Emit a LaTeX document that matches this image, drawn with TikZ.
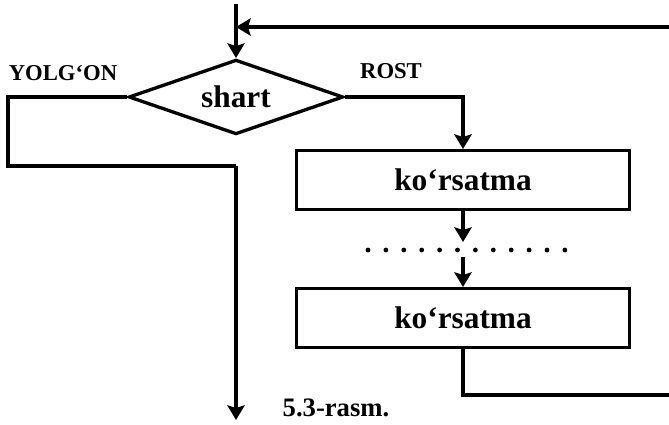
\documentclass[tikz,border=0pt]{standalone}
\usepackage{fontspec}
\setmainfont{Liberation Serif}
\usetikzlibrary{
positioning,
arrows.meta,
shapes.geometric
}
\tikzset{
decision/.style={
draw,
diamond,
line width=2.5pt,
inner sep=0pt,
aspect=2.87,
minimum width=161pt,
minimum height=56pt,
font=\fontsize{23.5}{26}\selectfont\bfseries
},
box/.style={
draw,
line width=2.5pt,
align=center,
minimum height=44pt,
minimum width=250pt,
font=\fontsize{23.5}{26}\selectfont\bfseries
},
label/.style={
inner sep=0pt,
font=\fontsize{17}{19}\selectfont\bfseries
},
arrow/.style={
-{Stealth[length=11pt,width=13pt,inset=2pt]},
line width=2.5pt
},
line/.style={
line width=2.5pt
}
}
\begin{document}
\begin{tikzpicture}[x=0.75pt,y=-0.75pt,node distance=57pt]
\useasboundingbox (0,0) rectangle (669,425);

\node[decision] (cond) at (236,97) {shart};
\node[box] (instr1) at (463,180) {ko‘rsatma};
\node[box, below=of instr1] (instr2) {ko‘rsatma};

\node[label] (no) at (63,73) {YOLG‘ON};
\node[label] (yes) at (391,71) {ROST};
\node[inner sep=0pt, font=\fontsize{20}{22}\selectfont\bfseries] (caption) at (336,408) {5.3-rasm.};

\coordinate (start) at (236,4);
\coordinate (join) at (236,27);
\coordinate (leftturn) at (8,166);
\coordinate (exit) at (236,420);
\coordinate (dotsup) at (463,242);
\coordinate (dotsdown) at (463,257);
\coordinate (backcorner) at (700,395);

\draw[arrow] (start) -- (cond.north);
\draw[arrow] (cond.east) -| (instr1.north);
\draw[line] (cond.west) -| (leftturn) -- (leftturn -| exit);
\draw[arrow] (leftturn -| exit) -- (exit);
\draw[arrow] (instr1.south) -- (dotsup);
\draw[arrow] (dotsdown) -- (instr2.north);
\draw[arrow] (instr2.south) |- (backcorner) |- (join);

% dots
\foreach \i in {0,...,11}
  \fill (368+\i*17.9,250) circle (1.8pt);

\end{tikzpicture}
\end{document}
